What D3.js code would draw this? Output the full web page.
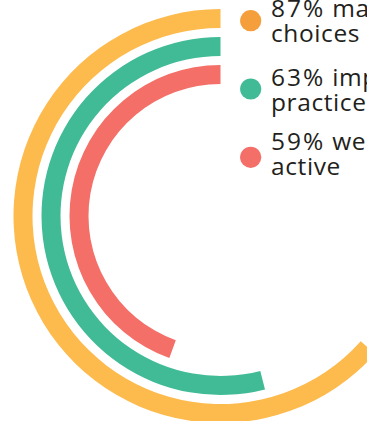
<!DOCTYPE html>
<html>
<head>
<meta charset="utf-8">
<script src="https://cdn.jsdelivr.net/npm/d3@7"></script>
<style>
  html, body { margin: 0; padding: 0; background: #fff; overflow: hidden; }
  svg { display: block; }
</style>
</head>
<body>
<div id="chart"></div>
<script>
// ---- data ----
const categories = ["made", "improved", "active"];
const percentValues = [87, 63, 59];
// share of the full circle covered by each arc
const arcShare = [63.4, 54.0, 44.5];
const labelWords = ["made healthier", "improved hygiene", "were more"];
const labelLine2 = ["choices", "practices", "active"];
const arcColors = ["#FDBA4D", "#41BB96", "#F36F68"];
const dotColors = ["#F59F3C", "#41BB96", "#F36F68"];

// ---- layout ----
const W = 367, H = 421;
const cx = 220.5, cy = 216;

const svg = d3.select("#chart").append("svg")
  .attr("width", W).attr("height", H);

const rScale = d3.scaleBand()
  .domain(categories.slice().reverse())
  .range([132, 207])
  .paddingInner(0.321)
  .paddingOuter(0);

const angleScale = d3.scaleLinear().domain([0, 100]).range([0, -2 * Math.PI]);

const arcGen = d3.arc()
  .innerRadius(d => rScale(d.cat))
  .outerRadius(d => rScale(d.cat) + rScale.bandwidth())
  .startAngle(0)
  .endAngle(d => angleScale(d.share));

const rows = categories.map((c, i) => ({
  cat: c, value: percentValues[i], share: arcShare[i],
  color: arcColors[i], dot: dotColors[i], words: labelWords[i], l2: labelLine2[i], i
}));

svg.append("g").attr("transform", `translate(${cx},${cy})`)
  .selectAll("path").data(rows).join("path")
  .attr("d", arcGen)
  .attr("fill", d => d.color);

// ---- legend ----
const legendY = d3.scalePoint().domain(categories).range([20.7, 157.3]);
const textOffsets = [-4, -3, -7];

const lg = svg.append("g");
const items = lg.selectAll("g").data(rows).join("g")
  .attr("transform", d => `translate(0,${legendY(d.cat)})`);

items.append("circle")
  .attr("cx", 250.7).attr("cy", 0).attr("r", 10.6)
  .attr("fill", d => d.dot);

const txt = items.append("text")
  .attr("x", 271)
  .attr("y", d => textOffsets[d.i])
  .attr("font-family", "'Open Sans', 'Noto Sans', sans-serif")
  .attr("font-size", 24.5)
  .attr("fill", "#231F20");
txt.append("tspan").attr("x", 271)
  .attr("letter-spacing", 2)
  .text(d => d3.format("d")(d.value) + "%");
txt.append("tspan")
  .attr("dx", 7)
  .attr("letter-spacing", 0.5)
  .text(d => d.words);
txt.append("tspan").attr("x", 271).attr("dy", 25)
  .attr("letter-spacing", 0.6)
  .text(d => d.l2);
</script>
</body>
</html>
